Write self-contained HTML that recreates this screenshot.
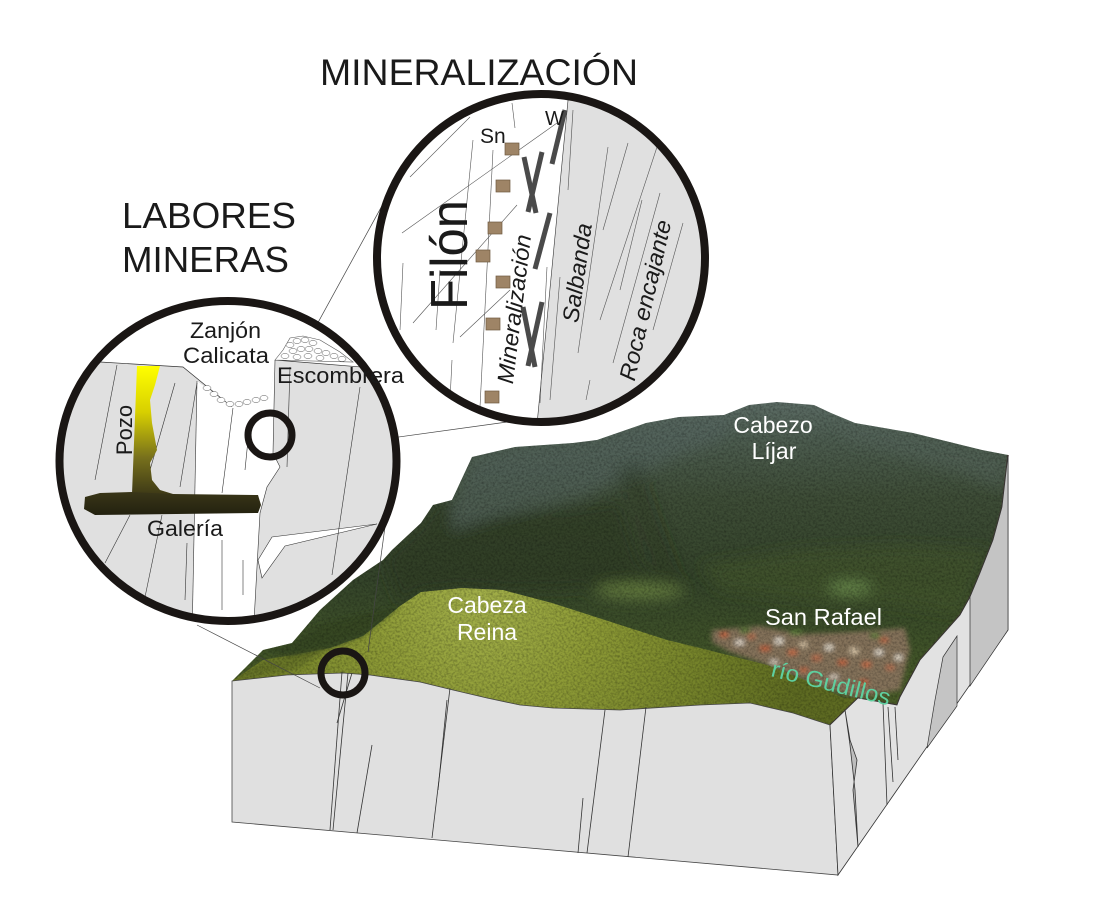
<!DOCTYPE html>
<html><head><meta charset="utf-8"><style>
html,body{margin:0;padding:0;background:#fff;}
svg{display:block;}
text{font-family:"Liberation Sans",Arial,sans-serif;}
</style></head><body>
<svg xmlns="http://www.w3.org/2000/svg" width="1095" height="905" viewBox="0 0 1095 905">
<defs>
<clipPath id="photo"><polygon points="232,681 287,675 343,673 370,675 420,682 453,690 487,698 520,705 553,708 620,710 700,705 750,703 793,713 830,725 858,698 897,705 900,697 920,660 960,615 970,597 980,573 993,540 1002,507 1008,455 982,450 913,433 855,423 831,413 814,405 777,402 749,405 724,415 679,417 646,423 597,440 573,443 515,447 472,457 452,500 433,505 421,523 392,550 383,560 353,580 320,610 292,643 263,650"/></clipPath>
<clipPath id="lc"><ellipse cx="228" cy="461" rx="165" ry="157"/></clipPath>
<clipPath id="bc"><circle cx="541" cy="258" r="161"/></clipPath>
<linearGradient id="mtn" x1="0" y1="400" x2="0" y2="725" gradientUnits="userSpaceOnUse">
<stop offset="0" stop-color="#5d6d66"/><stop offset=".12" stop-color="#4d5d50"/><stop offset=".3" stop-color="#3e4d37"/><stop offset=".55" stop-color="#34442a"/><stop offset=".75" stop-color="#3f5229"/><stop offset="1" stop-color="#4d6027"/>
</linearGradient>
<radialGradient id="hill" cx="480" cy="600" r="330" gradientUnits="userSpaceOnUse">
<stop offset="0" stop-color="#a3b04a"/><stop offset=".35" stop-color="#8d9a36"/><stop offset=".7" stop-color="#74822a"/><stop offset="1" stop-color="#5e6b22"/>
</radialGradient>
<linearGradient id="pozo" x1="0" y1="366" x2="0" y2="497" gradientUnits="userSpaceOnUse">
<stop offset="0" stop-color="#ffff00"/><stop offset=".35" stop-color="#d8d000"/><stop offset=".7" stop-color="#77701c"/><stop offset="1" stop-color="#3a3616"/>
</linearGradient>
<linearGradient id="gal" x1="0" y1="492" x2="0" y2="515" gradientUnits="userSpaceOnUse">
<stop offset="0" stop-color="#3a3618"/><stop offset="1" stop-color="#23210f"/>
</linearGradient>
<filter id="nz" x="0" y="0" width="100%" height="100%"><feTurbulence type="fractalNoise" baseFrequency="0.45" numOctaves="2" seed="7"/><feColorMatrix type="matrix" values="0 0 0 0 0  0 0 0 0 0  0 0 0 0 0  1.6 0 0 0 -0.6"/></filter>
<filter id="bl" x="-10%" y="-10%" width="120%" height="120%"><feGaussianBlur stdDeviation="7"/></filter>
<filter id="bl2" x="-10%" y="-10%" width="120%" height="120%"><feGaussianBlur stdDeviation="2.5"/></filter>
</defs>

<!-- ===== BLOCK ===== -->
<g clip-path="url(#photo)">
  <rect x="220" y="395" width="800" height="340" fill="url(#mtn)"/>
  <g filter="url(#bl)">
    <polygon points="452,500 472,457 515,447 573,443 597,440 646,423 679,417 724,415 749,405 720,440 680,455 650,470 620,480 590,495 550,505 500,515 452,530" fill="#56665f" opacity=".6"/>
    <polygon points="831,413 855,423 913,433 982,450 1008,455 1005,490 950,470 900,455 850,440" fill="#55655d" opacity=".5"/>
    <polygon points="383,560 392,550 421,523 433,505 452,500 452,530 500,515 560,510 620,500 640,560 660,590 600,588 560,590 503,590 462,588 421,592 400,606" fill="#2d3b24" opacity=".7"/>
    <polygon points="615,470 640,460 660,520 685,585 662,590 642,540" fill="#263220" opacity=".35"/>
    <polygon points="700,565 800,550 900,545 990,550 975,590 960,615 900,605 800,600 720,590" fill="#4b5d2e" opacity=".45"/>
    <ellipse cx="640" cy="591" rx="45" ry="8" fill="#6f8a45" opacity=".8"/>
    <ellipse cx="850" cy="588" rx="22" ry="6" fill="#7aa058" opacity=".8"/>
  </g>
  <!-- town -->
  <g filter="url(#bl2)">
    <polygon points="712,630 760,626 800,634 850,632 905,628 910,650 900,690 858,698 817,685 767,665 730,652 712,642" fill="#84725a"/>
    <rect x="720" y="632" width="8" height="5" fill="#c0603a"/><rect x="735" y="640" width="9" height="5" fill="#e0d6c8"/>
    <rect x="748" y="634" width="7" height="5" fill="#b8704f"/><rect x="760" y="646" width="10" height="5" fill="#c0603a"/>
    <rect x="775" y="638" width="8" height="6" fill="#e6ded0"/><rect x="788" y="650" width="9" height="5" fill="#c56a45"/>
    <rect x="800" y="642" width="7" height="5" fill="#d9c6a8"/><rect x="812" y="655" width="9" height="6" fill="#b8704f"/>
    <rect x="825" y="645" width="8" height="5" fill="#e8e0d0"/><rect x="838" y="660" width="9" height="5" fill="#c0603a"/>
    <rect x="850" y="648" width="8" height="6" fill="#d9c6a8"/><rect x="862" y="662" width="9" height="5" fill="#c56a45"/>
    <rect x="875" y="650" width="8" height="5" fill="#e6ded0"/><rect x="886" y="665" width="8" height="5" fill="#b8704f"/>
    <rect x="770" y="660" width="8" height="4" fill="#e0d6c8"/><rect x="800" y="668" width="8" height="4" fill="#c0603a"/>
    <rect x="830" y="675" width="8" height="4" fill="#e0d6c8"/><rect x="860" y="680" width="8" height="5" fill="#c0603a"/>
    <rect x="880" y="638" width="8" height="4" fill="#c56a45"/><rect x="895" y="655" width="7" height="5" fill="#e8e0d0"/>
    <rect x="740" y="628" width="10" height="5" fill="#5c7a3a"/><rect x="870" y="633" width="10" height="5" fill="#5c7a3a"/>
    <rect x="790" y="630" width="12" height="5" fill="#5c7a3a"/>
  </g>
  <!-- hill Cabeza Reina -->
  <polygon points="232,681 287,675 343,673 370,675 420,682 453,690 487,698 520,705 553,708 620,710 700,705 750,703 793,713 830,725 858,698 843,698 817,685 767,665 700,648 667,640 605,620 552,603 503,590 462,588 421,592 400,606 363,636 330,648 292,655 263,660" fill="url(#hill)"/>
  <g filter="url(#bl2)">
    <polygon points="263,650 292,643 320,625 360,615 400,606 363,636 330,648 292,657" fill="#33441f" opacity=".8"/>
    <polygon points="232,681 263,660 292,655 330,648 300,668 260,676" fill="#55641f" opacity=".5"/>
  </g>
  <rect x="220" y="395" width="800" height="340" filter="url(#nz)" opacity=".35"/>
</g>
<polyline points="830,725 858,698 897,705 900,697 920,660 960,615 970,597 980,573 993,540 1002,507 1008,455" fill="none" stroke="#4a3b30" stroke-width="1.5"/>

<!-- front face -->
<polygon points="232,681 287,675 343,673 370,675 420,682 453,690 487,698 520,705 553,708 620,710 700,705 750,703 793,713 830,725 838,875 232,822" fill="#e0e0e0" stroke="#444" stroke-width="0.8"/>
<!-- right face -->
<polygon points="830,725 858,698 897,705 900,697 920,660 960,615 970,597 980,573 993,540 1002,507 1008,455 1008,630 838,875" fill="#e2e2e2" stroke="#333" stroke-width="0.8"/>
<polygon points="970,597 980,573 993,540 1002,507 1008,455 1008,630 970,686" fill="#c4c4c4" stroke="#333" stroke-width="0.7"/>
<polygon points="927,748 935,700 943,657 957,636 957,706" fill="#c4c4c4" stroke="#333" stroke-width="0.7"/>
<g stroke="#333" stroke-width="0.8" fill="none">
  <line x1="342" y1="672" x2="330" y2="830"/><line x1="348" y1="673" x2="333" y2="830"/>
  <line x1="352" y1="673" x2="337" y2="723"/><line x1="372" y1="745" x2="357" y2="833"/>
  <line x1="450" y1="688" x2="432" y2="838"/><line x1="447" y1="700" x2="438" y2="790"/>
  <line x1="605" y1="710" x2="587" y2="853"/><line x1="583" y1="798" x2="578" y2="853"/>
  <line x1="646" y1="707" x2="628" y2="857"/>
  <polygon points="845,710 850,740 857,760 853,790 858,847 855,790 850,745" fill="#bdbdbd"/>
  <line x1="883" y1="703" x2="887" y2="805"/><line x1="888" y1="707" x2="893" y2="782"/>
  <line x1="895" y1="707" x2="898" y2="760"/>
</g>

<!-- connector lines -->
<g stroke="#444" stroke-width="0.7">
  <line x1="395" y1="182" x2="269" y2="412"/>
  <line x1="290" y1="452" x2="536" y2="418"/>
  <line x1="197" y1="625" x2="320" y2="688"/>
  <line x1="387" y1="512" x2="368" y2="652"/>
</g>
<circle cx="343" cy="673" r="22" fill="none" stroke="#1a1614" stroke-width="7"/>

<!-- ===== LEFT CIRCLE (LABORES MINERAS) ===== -->
<g clip-path="url(#lc)">
  <rect x="50" y="290" width="360" height="350" fill="#fff"/>
  <polygon points="50,362 100,362 183,367 232,407 270,397 275,360 393,370 410,370 410,640 50,640" fill="#e0e0e0"/>
  <polyline points="50,362 100,362 183,367 232,407" fill="none" stroke="#333" stroke-width="0.7"/>
  <line x1="275" y1="360" x2="410" y2="371" stroke="#333" stroke-width="0.7"/>
  <polygon points="197,381 232,407 270,397 275,360 273,453 280,467 267,487 260,513 257,567 253,640 192,640" fill="#fff"/>
  <polyline points="197,381 192,640" fill="none" stroke="#333" stroke-width="0.6"/>
  <polyline points="275,360 273,453 280,467 267,487 260,513 257,567 253,640" fill="none" stroke="#333" stroke-width="0.6"/>
  <polygon points="258,560 272,537 377,524 285,546 262,578" fill="#fff" stroke="#333" stroke-width="0.6"/>
  <polygon points="275,360 283,350 290,338 303,336 320,340 340,352 353,362" fill="#fff" stroke="#555" stroke-width="0.6"/>
  <g fill="#fff" stroke="#555" stroke-width="0.5">
    <ellipse cx="207" cy="388" rx="4" ry="2.5"/><ellipse cx="214" cy="394" rx="4" ry="2.5"/><ellipse cx="221" cy="400" rx="4" ry="2.5"/>
    <ellipse cx="230" cy="404" rx="4" ry="2.5"/><ellipse cx="239" cy="404" rx="4" ry="2.5"/><ellipse cx="247" cy="402" rx="4" ry="2.5"/>
    <ellipse cx="256" cy="400" rx="4" ry="2.5"/><ellipse cx="264" cy="398" rx="4" ry="2.5"/>
    <ellipse cx="290" cy="345" rx="4" ry="2.5"/><ellipse cx="297" cy="341" rx="4" ry="2.5"/><ellipse cx="305" cy="340" rx="4" ry="2.5"/>
    <ellipse cx="313" cy="343" rx="4" ry="2.5"/><ellipse cx="293" cy="351" rx="4" ry="2.5"/><ellipse cx="301" cy="349" rx="4" ry="2.5"/>
    <ellipse cx="309" cy="349" rx="4" ry="2.5"/><ellipse cx="318" cy="351" rx="4" ry="2.5"/><ellipse cx="326" cy="353" rx="4" ry="2.5"/>
    <ellipse cx="334" cy="356" rx="4" ry="2.5"/><ellipse cx="342" cy="359" rx="4" ry="2.5"/><ellipse cx="285" cy="356" rx="4" ry="2.5"/>
    <ellipse cx="297" cy="357" rx="4" ry="2.5"/><ellipse cx="308" cy="356" rx="4" ry="2.5"/><ellipse cx="320" cy="358" rx="4" ry="2.5"/>
  </g>
  <g stroke="#333" stroke-width="0.6">
    <line x1="117" y1="365" x2="95" y2="480"/><line x1="175" y1="383" x2="148" y2="477"/>
    <line x1="130" y1="515" x2="105" y2="563"/><line x1="162" y1="515" x2="145" y2="597"/>
    <line x1="197" y1="383" x2="180" y2="487"/><line x1="187" y1="543" x2="185" y2="600"/>
    <line x1="233" y1="408" x2="222" y2="493"/><line x1="222" y1="540" x2="222" y2="610"/>
    <line x1="243" y1="560" x2="243" y2="595"/><line x1="290" y1="367" x2="287" y2="467"/>
    <line x1="360" y1="387" x2="332" y2="575"/><line x1="390" y1="533" x2="373" y2="613"/>
    <line x1="250" y1="420" x2="245" y2="470"/>
  </g>
  <polygon points="137,366 160,366 155,385 150,400 152,423 157,450 150,463 152,480 160,490 173,494 132,494" fill="url(#pozo)"/>
  <polygon points="85,497 100,493 132,492 173,494 258,495 261,505 258,513 95,515 84,509" fill="url(#gal)"/>
  <circle cx="270" cy="435" r="22" fill="none" stroke="#1a1614" stroke-width="7"/>
</g>
<ellipse cx="228" cy="461" rx="168.5" ry="160" fill="none" stroke="#1a1614" stroke-width="8"/>

<!-- ===== BIG CIRCLE (MINERALIZACIÓN) ===== -->
<g clip-path="url(#bc)">
  <rect x="370" y="90" width="345" height="345" fill="#fff"/>
  <polygon points="569,90 715,90 715,435 536,435" fill="#e0e0e0"/>
  <line x1="569" y1="90" x2="536" y2="435" stroke="#333" stroke-width="0.6"/>
  <g stroke="#555" stroke-width="0.6">
    <line x1="410" y1="177" x2="470" y2="117"/><line x1="402" y1="233" x2="557" y2="123"/>
    <line x1="413" y1="323" x2="517" y2="205"/><line x1="460" y1="337" x2="510" y2="290"/>
    <line x1="473" y1="140" x2="453" y2="343"/><line x1="493" y1="150" x2="480" y2="407"/>
    <line x1="403" y1="263" x2="400" y2="330"/><line x1="512" y1="103" x2="515" y2="128"/>
    <line x1="440" y1="270" x2="436" y2="330"/><line x1="452" y1="360" x2="450" y2="400"/>
    <line x1="573" y1="110" x2="568" y2="190"/><line x1="608" y1="147" x2="578" y2="353"/>
    <line x1="628" y1="143" x2="603" y2="230"/><line x1="657" y1="147" x2="600" y2="320"/>
    <line x1="660" y1="193" x2="613" y2="363"/><line x1="683" y1="223" x2="653" y2="330"/>
    <line x1="642" y1="200" x2="620" y2="290"/><line x1="547" y1="267" x2="540" y2="403"/>
    <line x1="560" y1="277" x2="550" y2="400"/><line x1="590" y1="380" x2="586" y2="400"/>
  </g>
  <g fill="#9e8466" stroke="#6e5a40" stroke-width="0.7">
    <rect x="505" y="143" width="14" height="12"/><rect x="496" y="180" width="14" height="12"/>
    <rect x="488" y="222" width="14" height="12"/><rect x="476" y="250" width="14" height="12"/>
    <rect x="496" y="276" width="14" height="12"/><rect x="486" y="318" width="14" height="12"/>
    <rect x="485" y="391" width="14" height="12"/>
  </g>
  <g stroke="#4a4a4a" stroke-width="5">
    <line x1="565" y1="110" x2="552" y2="164"/>
    <line x1="542" y1="152" x2="528" y2="212"/><line x1="524" y1="157" x2="536" y2="213"/>
    <line x1="550" y1="213" x2="535" y2="269"/>
    <line x1="542" y1="302" x2="528" y2="366"/><line x1="523" y1="307" x2="535" y2="367"/>
  </g>
</g>
<circle cx="541" cy="258" r="164" fill="none" stroke="#1a1614" stroke-width="8"/>

<!-- ===== TEXT ===== -->
<g fill="#1a1a1a">
  <text x="320" y="85" font-size="37" textLength="318" lengthAdjust="spacingAndGlyphs">MINERALIZACIÓN</text>
  <text x="122" y="228" font-size="36" textLength="174" lengthAdjust="spacingAndGlyphs">LABORES</text>
  <text x="122" y="272" font-size="36" textLength="167" lengthAdjust="spacingAndGlyphs">MINERAS</text>

  <text x="190" y="338" font-size="22" textLength="71" lengthAdjust="spacingAndGlyphs">Zanjón</text>
  <text x="183" y="363" font-size="22" textLength="86" lengthAdjust="spacingAndGlyphs">Calicata</text>
  <text x="277" y="383" font-size="22" textLength="127" lengthAdjust="spacingAndGlyphs">Escombrera</text>
  <text transform="translate(132,430) rotate(-90)" text-anchor="middle" font-size="22">Pozo</text>
  <text x="147" y="536" font-size="22" textLength="76" lengthAdjust="spacingAndGlyphs">Galería</text>

  <text x="545" y="125" font-size="20">W</text>
  <text x="480" y="143" font-size="21">Sn</text>
  <text transform="translate(467,255) rotate(-90)" text-anchor="middle" font-size="52" textLength="110" lengthAdjust="spacingAndGlyphs">Filón</text>
  <text transform="translate(522,310) rotate(-83)" text-anchor="middle" font-size="23" font-style="italic" textLength="150" lengthAdjust="spacingAndGlyphs">Mineralización</text>
  <text transform="translate(585,274) rotate(-82)" text-anchor="middle" font-size="23" font-style="italic" textLength="100" lengthAdjust="spacingAndGlyphs">Salbanda</text>
  <text transform="translate(653,302) rotate(-77)" text-anchor="middle" font-size="23" font-style="italic" textLength="164" lengthAdjust="spacingAndGlyphs">Roca encajante</text>
</g>
<g fill="#ffffff" font-size="23">
  <text x="773" y="433" text-anchor="middle">Cabezo</text>
  <text x="774" y="459" text-anchor="middle">Líjar</text>
  <text x="487" y="613" text-anchor="middle">Cabeza</text>
  <text x="487" y="640" text-anchor="middle">Reina</text>
  <text x="765" y="625" textLength="117" lengthAdjust="spacingAndGlyphs">San Rafael</text>
</g>
<text transform="translate(770,676) rotate(14)" fill="#5fcf9f" font-size="23" textLength="122" lengthAdjust="spacingAndGlyphs">río Gudillos</text>
</svg>
</body></html>
